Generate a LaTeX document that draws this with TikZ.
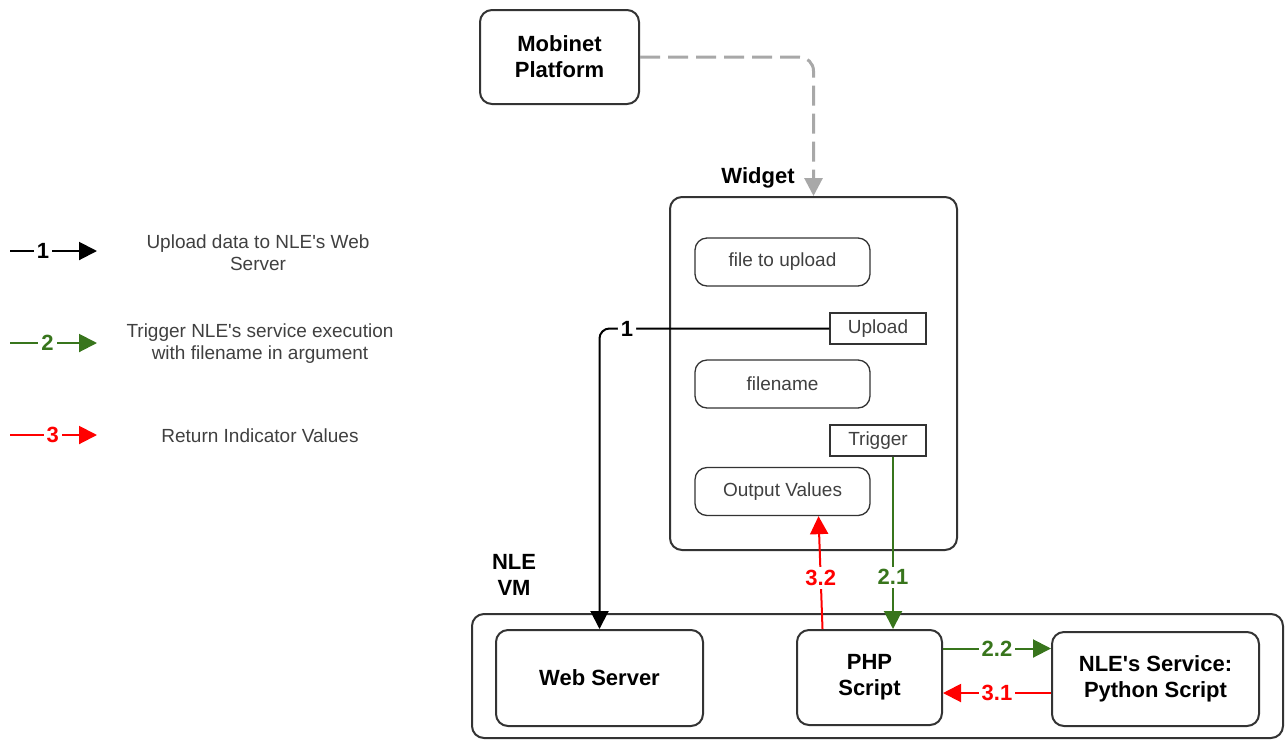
\documentclass[tikz,border=0pt]{standalone}
\usepackage{fontspec}
\setmainfont{Liberation Sans}[Ligatures=TeXOff]
\usepackage{xcolor}
\usepackage{tikz}
\usetikzlibrary{positioning}
\usetikzlibrary{calc}
\usetikzlibrary{arrows.meta}

\begin{document}
\begin{tikzpicture}
    [%%%%%%%%%%%%%%%%%%%%%%%%%%%%%%
        x=1pt,y=-1pt,
        box/.style={rectangle,rounded corners=12pt,draw=boxgray,line width=2pt,inner sep=0pt,align=center,font=\fontsize{22}{26}\selectfont\bfseries},
        field/.style={rectangle,rounded corners=12pt,draw=boxgray,line width=1.3pt,minimum width=175pt,minimum height=48pt,inner sep=0pt,text=txtgray,font=\fontsize{19}{22}\selectfont},
        btn/.style={rectangle,draw=boxgray,line width=1.3pt,minimum width=96pt,minimum height=31pt,inner sep=0pt,text=txtgray,font=\fontsize{19}{22}\selectfont},
        lbl/.style={align=center,font=\fontsize{22}{26}\selectfont\bfseries},
        num/.style={fill=white,inner sep=3pt,font=\fontsize{22}{26}\selectfont\bfseries},
        legtext/.style={text=txtgray,align=center,font=\fontsize{19}{22}\selectfont},
        tip/.style={-{Triangle[length=18pt,width=18pt]}},
        flow/.style={line width=2pt,tip}
    ]%%%%%%%%%%%%%%%%%%%%%%%%%%%%%%
\definecolor{boxgray}{rgb}{0.2, 0.2, 0.2}
\definecolor{txtgray}{rgb}{0.25, 0.25, 0.25}
\definecolor{darkgreen}{rgb}{0.22, 0.46, 0.11}
\definecolor{dashgray}{rgb}{0.66, 0.66, 0.66}

\useasboundingbox (0,0) rectangle (1287,740);

% legend
\coordinate (leg1a) at (10,251);
\coordinate (leg1b) at (97,251);
\coordinate (leg2a) at (10,343);
\coordinate (leg2b) at (97,343);
\coordinate (leg3a) at (10,435);
\coordinate (leg3b) at (97,435);
\draw [flow,black] (leg1a) -- node [num,pos=0.38,text=black] {1} (leg1b);
\draw [flow,darkgreen] (leg2a) -- node [num,pos=0.43] {2} (leg2b);
\draw [flow,red] (leg3a) -- node [num,pos=0.49] {3} (leg3b);
\node [legtext] (leg1txt) at (258,253) {Upload data to NLE's Web\\Server};
\node [legtext] (leg2txt) at (260,344) {Trigger NLE's service execution\\with filename in argument};
\node [legtext] (leg3txt) at (260,436) {Return Indicator Values};

% boxes
\node [box,minimum width=159pt,minimum height=94pt] (mobinet) at (559.5,57) {Mobinet\\Platform};
\node [box,minimum width=287pt,minimum height=353pt] (widget) at (813.5,373.5) {};
\node [lbl] (widgetlbl) at (758,178) {Widget};
\node [field] (file) at (782.5,262) {file to upload};
\node [btn] (upload) at (878,328.5) {Upload};
\node [field] (fname) at (782.5,384) {filename};
\node [btn] (trigger) at (878,440.5) {Trigger};
\node [field] (output) at (782.5,491.5) {Output Values};

\node [box,minimum width=811pt,minimum height=124pt] (vm) at (877.5,676) {};
\node [lbl] (vmlbl) at (514,575) {NLE\\VM};
\node [box,minimum width=207pt,minimum height=96pt] (web) at (599.5,678) {Web Server};
\node [box,minimum width=145pt,minimum height=95pt] (php) at (869.5,677.5) {PHP\\Script};
\node [box,minimum width=207pt,minimum height=94pt] (python) at (1155.5,679) {NLE's Service:\\Python Script};

% connectors
\draw [dashgray,line width=3pt,dash pattern=on 20pt off 8pt,rounded corners=14pt,tip] (mobinet.east) -| (widget.north);

\draw [flow,black,rounded corners=10pt] (upload.west) -| node [num,pos=0.44] {1} (web.north);

\draw [flow,darkgreen] ([xshift=15pt]trigger.south) -- node [num,pos=0.7] {2.1} ([xshift=15pt]trigger.south |- php.north);
\draw [flow,red] ([xshift=-47pt]php.north) -- node [num,pos=0.45] {3.2} ([xshift=36pt]output.south);

\draw [flow,darkgreen] ([yshift=29pt]php.east) -- node [num] {2.2} ([yshift=29pt]php.east -| python.west);
\draw [flow,red] ([yshift=-14pt]python.west) -- node [num] {3.1} ([yshift=-14pt]python.west -| php.east);

\end{tikzpicture}
\end{document}
